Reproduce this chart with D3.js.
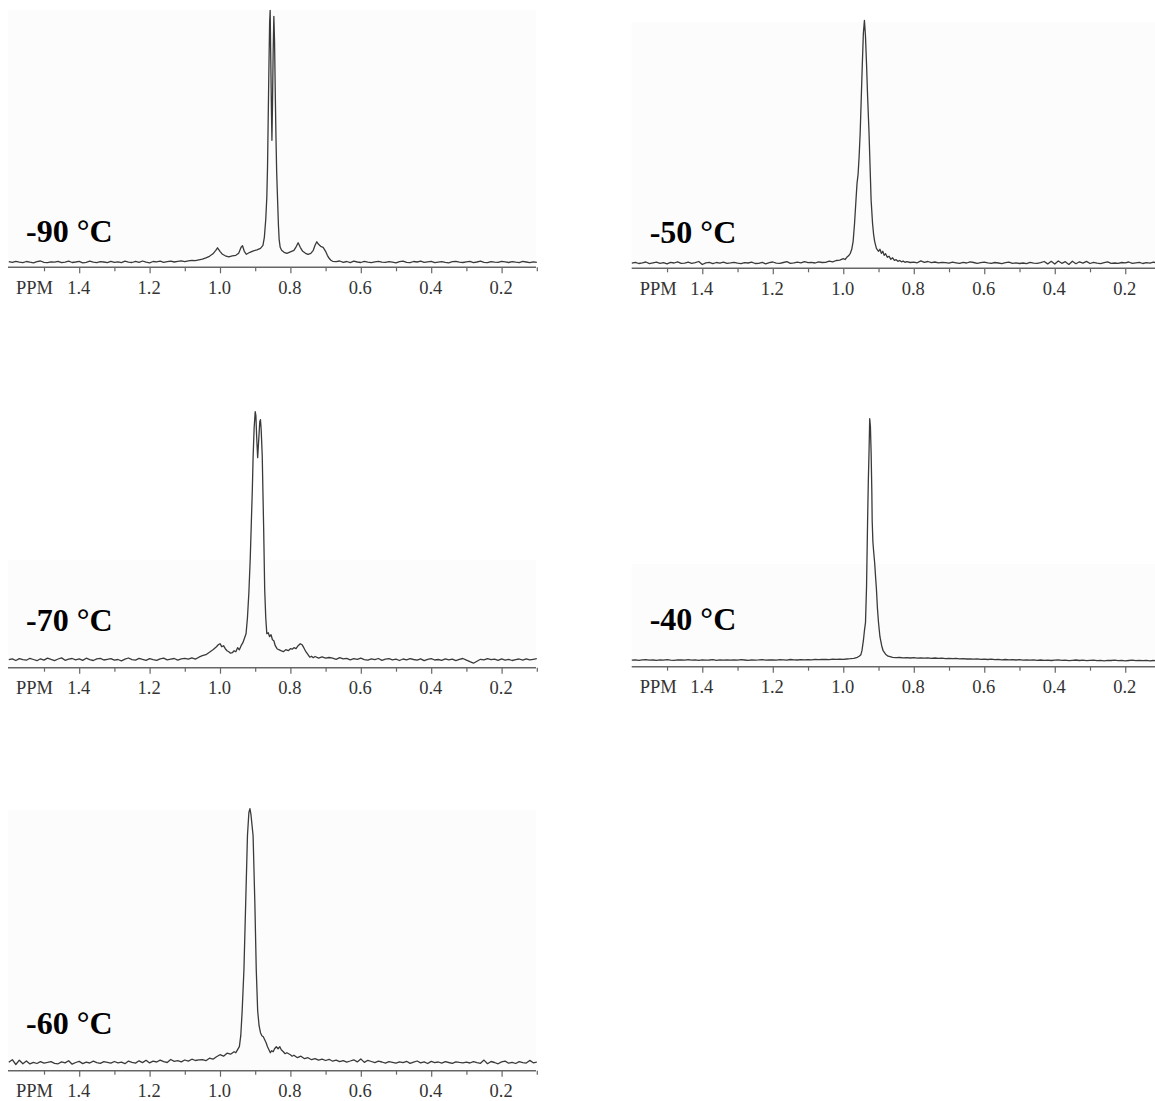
<!DOCTYPE html>
<html><head><meta charset="utf-8">
<script src="https://cdn.jsdelivr.net/npm/d3@7"></script>
<style>
html,body{margin:0;padding:0;background:#fff;}
svg{display:block;}
</style></head>
<body>
<script>
// ---------- DATA ----------
const temperatures = ["-90 °C", "-50 °C", "-70 °C", "-40 °C", "-60 °C"];
const majorTicks = [1.4, 1.2, 1.0, 0.8, 0.6, 0.4, 0.2];
const minorTicks = [1.5, 1.3, 1.1, 0.9, 0.7, 0.5, 0.3, 0.1];
const axisName = "PPM";

// baseline segments: left = values from 1.60 ppm downward in 0.01 steps,
// right = values ending at 0.10 ppm in 0.01 steps; peak = [ppm, intensity]
const left90 = [5.6,4.9,6.0,5.2,4.7,5.8,5.1,4.5,5.7,6.3, 5.0,4.6,5.5,5.1,6.0,4.6,5.2,6.1,4.8,5.3, 5.9,4.5,5.0,6.2,5.1,4.7,5.6,5.3,4.6,6.0, 5.0,5.4,4.6,6.1,5.2,4.8,5.9,5.0,6.3,5.1, 4.5,5.8,5.4,6.1,5.0,5.6,6.2,5.3,5.9,6.4, 5.7,6.4,6.9,6.6];
const peak90 = [[1.06,7.5],[1.05,8.2],[1.04,9.5],[1.03,11],[1.02,13.5],[1.012,17],[1.007,19.5],[1.0,16],[0.993,13],[0.985,11.5],[0.975,10.5],[0.965,11.5],[0.955,12],[0.947,14],[0.94,20],[0.936,21.5],[0.931,16],[0.925,13],[0.915,15],[0.905,16.5],[0.895,17.5],[0.885,19],[0.878,22],[0.874,30],[0.87,48],[0.867,70],[0.865,100],[0.863,150],[0.861,200],[0.859,245],[0.8575,257],[0.856,215],[0.854,160],[0.8525,127],[0.851,160],[0.849,215],[0.847,251],[0.845,225],[0.843,175],[0.841,130],[0.839,95],[0.836,63],[0.834,42],[0.832,28],[0.829,20],[0.825,17],[0.818,15],[0.81,14],[0.80,15.5],[0.79,17],[0.783,21],[0.778,24.5],[0.772,20],[0.765,16],[0.757,14],[0.75,13],[0.742,14],[0.735,17],[0.73,22],[0.725,25.5],[0.72,23],[0.714,21],[0.707,20],[0.70,16],[0.695,12],[0.69,9],[0.685,7],[0.68,6]];
const right90 = [5.6,6.3,5.0,5.8,4.7,6.1,5.3,4.8,5.9,5.2, 4.6,5.5,6.0,5.1,4.9,5.7,5.2,4.5,5.6,6.2, 5.0,4.7,5.8,5.3,6.1,4.9,5.4,5.9,4.6,5.2, 5.7,5.0,4.5,5.6,6.0,5.1,4.8,5.5,5.9,4.7, 5.3,6.1,5.0,4.6,5.7,5.2,4.9,6.0,5.4,4.8, 5.6,5.1,4.7,5.9,5.3,4.6,5.5,5.0];

const left50 = [5.2,6.0,4.8,5.5,6.3,4.6,5.4,6.1,5.0,5.7, 4.5,5.9,5.3,6.4,4.9,5.1,6.2,5.0,5.6,6.8, 3.8,5.5,6.0,4.7,5.8,5.2,6.1,4.9,5.4,6.0, 5.1,4.6,5.7,5.3,6.2,4.8,5.0,5.9,4.5,5.6, 6.3,5.2,4.9,5.8,6.6,5.0,5.4,6.1,5.5,6.7, 5.6,6.0,5.3,6.4,5.8];
const peak50 = [[1.05,6],[1.04,7.2],[1.03,6.4],[1.02,7.8],[1.01,8.2],[1.0,9.6],[0.995,8.8],[0.99,11],[0.985,12.5],[0.98,15],[0.976,19],[0.972,27],[0.968,45],[0.964,68],[0.961,85],[0.958,94],[0.955,112],[0.952,136],[0.949,170],[0.946,204],[0.943,235],[0.940,248],[0.937,232],[0.934,204],[0.931,172],[0.927,136],[0.924,102],[0.921,68],[0.917,45],[0.914,34],[0.911,27],[0.906,20],[0.90,17],[0.896,19],[0.892,15],[0.888,17],[0.884,13],[0.88,14.5],[0.875,11],[0.87,12],[0.865,9],[0.86,10.5],[0.855,8],[0.85,8.6],[0.845,7],[0.84,7.8],[0.835,6.5],[0.83,7.2],[0.825,6],[0.82,6.6],[0.81,5.8]];
const right50 = [6.2,5.5,7.4,6.0,6.8,5.6,6.3,5.4,6.0,5.7, 5.2,6.1,5.5,4.9,6.0,5.3,6.4,5.8,5.0,5.6, 6.2,5.4,5.0,5.8,5.3,4.7,5.6,6.1,5.0,5.5, 4.8,5.3,4.6,5.9,5.2,5.0,5.7,6.8,4.4,7.0, 4.2,7.3,5.0,6.6,3.9,7.1,4.6,6.5,5.2,6.9, 4.8,5.9,5.2,4.7,5.6,6.4,5.0,5.3,4.9,5.8, 5.4,6.3,5.0,5.5,6.0,4.8,5.7,5.2,6.1,5.4, 5.0];

const left70 = [8.0,8.8,7.2,9.0,8.1,7.5,9.4,8.2,7.0,8.9, 7.6,9.6,8.3,7.1,8.7,9.8,7.4,8.6,9.2,7.8, 8.9,7.3,9.5,8.0,7.2,8.8,9.3,7.7,8.4,9.1, 7.5,8.2,6.9,8.5,9.7,8.0,7.6,9.4,8.3,7.4, 9.0,8.1,7.3,8.9,9.6,7.8,8.5,9.2,7.6,8.8, 9.3];
const peak70 = [[1.09,8.5],[1.08,9.8],[1.07,8.6],[1.06,10.5],[1.05,12],[1.04,13],[1.03,15.5],[1.02,18],[1.01,21],[1.005,23],[1.0,24],[0.995,21],[0.99,22],[0.985,19],[0.98,17],[0.975,16],[0.97,14.5],[0.965,15],[0.96,17],[0.955,16],[0.95,20],[0.945,18],[0.94,22],[0.935,25],[0.93,30],[0.926,34],[0.922,50],[0.918,75],[0.914,110],[0.911,145],[0.908,180],[0.906,210],[0.903,240],[0.900,256],[0.898,252],[0.896,232],[0.893,210],[0.890,228],[0.887,246],[0.885,248],[0.883,238],[0.880,212],[0.878,175],[0.876,140],[0.873,78],[0.870,50],[0.867,34],[0.863,35],[0.859,31],[0.855,33],[0.851,28],[0.847,27],[0.843,22],[0.838,19],[0.833,18],[0.827,17],[0.82,16],[0.813,18],[0.806,17],[0.80,19],[0.795,18.5],[0.79,20],[0.784,19],[0.778,22],[0.772,24],[0.767,23],[0.762,20],[0.756,16],[0.75,13],[0.745,10.5],[0.74,11.5],[0.735,10],[0.73,11.2],[0.72,9.5],[0.71,10.8],[0.70,9.5],[0.69,10.2]];
const right70 = [9.6,8.4,10.1,8.8,9.4,7.9,9.0,8.3,9.5,8.1, 7.6,8.9,8.0,9.2,7.4,8.6,9.0,7.8,8.5,7.2, 8.7,7.9,9.1,8.2,7.5,8.8,7.0,8.4,9.0,7.7, 8.2,7.4,8.9,7.8,8.5,7.1,8.3,9.2,7.6,6.0, 4.5,6.5,8.4,7.9,9.1,8.0,8.6,7.3,8.8,7.6, 8.3,7.2,8.0,8.7,7.5,8.9,7.8,8.4,9.0];

const left40 = [6.6,6.9,6.4,6.8,7.0,6.5,6.7,6.3,6.8,6.6, 7.0,6.6,6.4,6.9,6.7,6.5,7.1,6.6,6.8,6.4, 6.9,6.5,6.7,7.0,6.3,6.8,6.6,6.9,6.5,6.8, 6.6,7.0,6.7,6.4,6.9,6.6,6.8,7.1,6.5,6.7, 6.9,6.6,7.0,6.8,6.5,7.2,6.9,6.7,7.0,6.8, 7.1,6.9,7.3,7.0,7.2,7.4,7.1,7.5,7.3,7.6, 7.4];
const peak40 = [[0.99,7.7],[0.98,8.0],[0.97,8.4],[0.96,9.4],[0.955,10.5],[0.95,12],[0.947,16],[0.943,26],[0.94,36],[0.937,44],[0.934,80],[0.931,146],[0.929,185],[0.927,214],[0.925,248],[0.923,240],[0.921,214],[0.919,175],[0.918,146],[0.916,125],[0.914,116],[0.911,104],[0.908,88],[0.906,78],[0.903,58],[0.90,44],[0.896,30],[0.891,21],[0.887,16],[0.88,12.5],[0.873,10.5],[0.867,10],[0.86,9.3],[0.85,9.0]];
const right40 = [9.2,8.8,9.1,8.7,9.0,8.6,8.9,8.5,8.8,8.4, 8.7,8.3,8.5,8.1,8.4,8.0,8.3,7.8,8.1,7.7, 7.9,7.5,7.8,7.3,7.6,7.2,7.5,7.0,7.3,6.9, 7.2,6.8,7.1,6.7,7.0,6.6,6.9,6.5,6.8,6.4, 6.7,6.3,6.6,6.2,6.5,6.8,6.3,6.6,6.1,6.4, 6.7,6.2,6.5,6.0,6.4,6.6,6.1,6.3,5.9,6.4, 6.2,6.5,6.0,6.3,5.9,6.2,6.5,6.0,6.3,6.1, 6.4,5.9,6.2,6.0,6.3];

const left60 = [8.5,11.0,6.2,10.5,7.0,9.8,6.8,8.4,7.2,9.0, 7.6,8.3,9.1,7.4,6.9,8.8,7.8,10.0,6.5,8.2, 9.3,7.1,8.6,7.7,9.5,8.0,7.3,9.0,8.4,7.5, 9.2,7.9,8.5,7.0,9.6,8.3,7.6,9.9,8.1,10.4, 7.8,9.5,8.7,10.6,9.0,8.2,11.2,9.4,10.0,8.8, 10.7,9.6,11.5,10.2,10.9];
const peak60 = [[1.05,11],[1.04,10],[1.03,12.5],[1.02,11.5],[1.01,14],[1.0,16],[0.99,14.5],[0.98,17.5],[0.97,16.5],[0.96,19],[0.955,18],[0.95,21],[0.945,24],[0.941,35],[0.937,60],[0.932,101],[0.927,168],[0.922,235],[0.918,258],[0.915,262],[0.912,256],[0.906,235],[0.901,168],[0.897,101],[0.893,60],[0.889,45],[0.885,38],[0.881,35],[0.877,34],[0.873,31],[0.869,28],[0.865,24],[0.861,21],[0.857,18],[0.853,20],[0.849,19],[0.845,22],[0.84,24],[0.835,22],[0.83,24],[0.826,21],[0.82,19],[0.815,17],[0.81,18],[0.80,16],[0.795,14.5],[0.79,15.5],[0.78,13],[0.77,14.5],[0.76,12],[0.75,13],[0.74,11],[0.73,12],[0.72,10.5],[0.71,11.5]];
const right60 = [10.2,11.4,9.5,10.6,9.0,10.1,8.6,9.7,10.9,8.8, 11.8,8.3,10.4,9.2,8.0,9.5,8.7,7.6,9.0,8.4, 7.5,8.9,8.1,9.4,7.3,8.6,9.7,7.8,8.8,7.2, 9.3,8.0,8.7,7.6,9.1,8.2,7.4,8.9,8.3,7.9, 8.5,7.7,9.0,8.1,7.4,10.6,7.0,9.2,8.2,6.9, 8.8,9.6,7.5,8.4,7.2,9.1,8.0,7.6,10.3,7.9, 8.6];

// ---------- LAYOUT ----------
const W = 1155, H = 1101;
const layout = [
  {col: 0, axisY: 267.3, bgTop: 10,  labelOff: 25},
  {col: 1, axisY: 268.3, bgTop: 22,  labelOff: 25},
  {col: 0, axisY: 667.7, bgTop: 560, labelOff: 37},
  {col: 1, axisY: 666.7, bgTop: 564, labelOff: 37},
  {col: 0, axisY: 1070.7, bgTop: 810, labelOff: 37}
];
const cols = [
  {left: 8, right: 536, r0: 8.8, r1: 536.8},
  {left: 631.7, right: 1160, r0: 631.8, r1: 1160.5}
];
const spectra = [
  [left90, peak90, right90],
  [left50, peak50, right50],
  [left70, peak70, right70],
  [left40, peak40, right40],
  [left60, peak60, right60]
];

function build(left, peak, right) {
  const pts = [];
  left.forEach((v, i) => pts.push([1.60 - i * 0.01, v]));
  peak.forEach(p => pts.push(p));
  const start = 0.10 + (right.length - 1) * 0.01;
  right.forEach((v, i) => pts.push([start - i * 0.01, v]));
  return pts;
}

const svg = d3.select("body").append("svg").attr("width", W).attr("height", H);
const serif = "'Liberation Serif','Times New Roman',Times,serif";

layout.forEach((L, i) => {
  const c = cols[L.col];
  const x = d3.scaleLinear().domain([1.6, 0.1]).range([c.r0, c.r1]);
  const y = d3.scaleLinear().domain([0, 260]).range([L.axisY, L.axisY - 260]);
  const g = svg.append("g");

  g.append("rect").attr("x", c.left).attr("y", L.bgTop)
    .attr("width", c.right - c.left).attr("height", L.axisY - L.bgTop)
    .attr("fill", "#fcfcfc");

  // minor ticks
  const minorAx = d3.axisBottom(x).tickValues(minorTicks).tickSize(4).tickSizeOuter(0).tickFormat("");
  const gm = g.append("g").attr("transform", `translate(0,${L.axisY})`).call(minorAx);
  gm.select(".domain").remove();
  gm.selectAll(".tick line").attr("stroke", "#666").attr("stroke-width", 1.2);

  // major ticks + labels
  const majorAx = d3.axisBottom(x).tickValues(majorTicks).tickSize(6).tickSizeOuter(0)
    .tickPadding(8).tickFormat(d3.format(".1f"));
  const ga = g.append("g").attr("transform", `translate(0,${L.axisY})`).call(majorAx);
  ga.select(".domain").remove();
  ga.selectAll(".tick line").attr("stroke", "#666").attr("stroke-width", 1.2);
  ga.selectAll(".tick text").attr("font-family", serif).attr("font-size", 18.5)
    .attr("fill", "#333").attr("dx", -1).attr("dy", "0.66em");

  g.append("line").attr("x1", c.left).attr("x2", c.right)
    .attr("y1", L.axisY).attr("y2", L.axisY)
    .attr("stroke", "#666").attr("stroke-width", 1.6);

  g.append("text").attr("x", c.left + 26.5).attr("y", L.axisY + 26.5)
    .attr("text-anchor", "middle").attr("font-family", serif).attr("font-size", 18.5)
    .attr("fill", "#333").text(axisName);

  // spectrum trace
  const pts = build(...spectra[i]);
  const line = d3.line().x(d => x(d[0])).y(d => y(d[1]));
  g.append("path").datum(pts).attr("d", line)
    .attr("fill", "none").attr("stroke", "#3a3a3a").attr("stroke-width", 1.3)
    .attr("stroke-linejoin", "round");

  // temperature label
  g.append("text").attr("x", c.left + 18).attr("y", L.axisY - L.labelOff)
    .attr("font-family", serif).attr("font-weight", "bold").attr("font-size", 32)
    .attr("fill", "#000").text(temperatures[i]);
});
</script>
</body></html>
